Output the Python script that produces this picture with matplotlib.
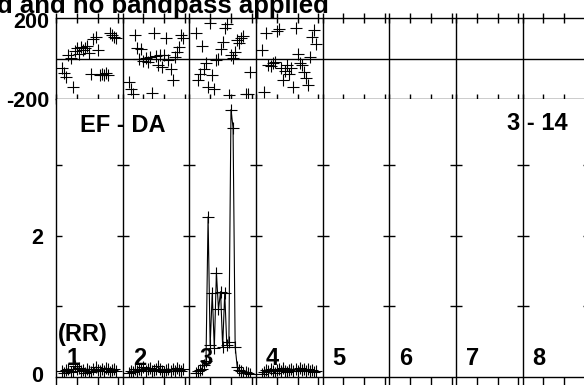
import matplotlib
matplotlib.use("Agg")
import matplotlib.pyplot as plt
import matplotlib.transforms as mtransforms
import numpy as np

plt.rcParams['font.family'] = ['Liberation Sans', 'DejaVu Sans']
plt.rcParams['font.weight'] = 'bold'

# channels plotted in every IF (edge channels flagged)
chan = np.arange(3, 30)
nchan = 32
nif = 8
if_labels = ['1', '2', '3', '4', '5', '6', '7', '8']

# phase (deg) per IF, IFs 5-8 have no data
phase_if1 = [-45, -70, -90, 20, 5, -140, 40, 55, 25, 60, 45, 55, 65, 30,
             -75, 95, 105, 45, -80, -75, -80, -70, -80, 125, 115, 105, 100]
phase_if2 = [-115, -150, -175, 115, 55, 0, 50, -10, 5, -15, 10, -170, 125, 15,
             -30, 20, -40, 20, 100, -5, -50, -105, 10, 35, 60, 115, 100]
phase_if3 = [125, -105, -75, 65, -50, -20, -140, 175, -80, -150, -5, 0, 50, 85,
             150, 170, -180, 20, 5, 35, 90, 80, 100, 110, -175, -175, -65]
phase_if4 = [45, -165, 125, -30, -35, -20, -15, 135, 145, -45, -105, -60, -30, -75,
             -45, -140, 150, 25, -20, -30, -65, -95, -130, 10, 105, 140, 75]

# amplitude (Jy) per IF
amp_if1 = [0.08, 0.06, 0.10, 0.12, 0.07, 0.09, 0.15, 0.11, 0.13, 0.08, 0.10, 0.06, 0.12, 0.09,
           0.07, 0.11, 0.14, 0.10, 0.08, 0.12, 0.09, 0.13, 0.11, 0.07, 0.10, 0.12, 0.08]
amp_if2 = [0.06, 0.09, 0.07, 0.11, 0.08, 0.12, 0.10, 0.14, 0.09, 0.11, 0.13, 0.08, 0.10, 0.12,
           0.15, 0.11, 0.09, 0.07, 0.10, 0.12, 0.08, 0.11, 0.09, 0.13, 0.10, 0.08, 0.11]
amp_if3 = [0.05, 0.08, 0.10, 0.12, 0.17, 0.22, 2.27, 0.45, 1.19, 0.41, 1.48, 0.96, 1.21, 0.43,
           1.19, 0.45, 0.50, 3.79, 3.53, 0.43, 0.14, 0.10, 0.08, 0.06, 0.07, 0.05, 0.04]
amp_if4 = [0.04, 0.07, 0.10, 0.08, 0.12, 0.09, 0.06, 0.10, 0.11, 0.08, 0.13, 0.09, 0.07, 0.10,
           0.12, 0.08, 0.11, 0.09, 0.13, 0.10, 0.12, 0.08, 0.11, 0.09, 0.10, 0.07, 0.09]

phases = [phase_if1, phase_if2, phase_if3, phase_if4]
amps = [amp_if1, amp_if2, amp_if3, amp_if4]

W, H = 584, 385
fig = plt.figure(figsize=(W / 100, H / 100), dpi=100)

def px_axes(x0, y0, x1, y1):
    return fig.add_axes([x0 / W, 1 - y1 / H, (x1 - x0) / W, (y1 - y0) / H])

def nudge(labels, dy_px):
    # shift tick labels vertically by a few pixels
    off = mtransforms.ScaledTranslation(0, dy_px / 100, fig.dpi_scale_trans)
    for lbl in labels:
        lbl.set_transform(lbl.get_transform() + off)

ax_ph = px_axes(56, 18.3, 589.3, 99)
ax_am = px_axes(56, 99, 589.3, 377)

xmax = nif * nchan
bounds = np.arange(0, nif + 1) * nchan
minor = [k * nchan + t for k in range(nif) for t in (10, 20, 30)]

for ax in (ax_ph, ax_am):
    ax.set_xlim(0, xmax)
    for b in bounds[1:]:
        ax.axvline(b, color='black', lw=1.0)
    for s in ax.spines.values():
        s.set_linewidth(1.0)
    ax.set_xticks(list(bounds) + minor)
    ax.set_xticklabels([])
    ax.spines['right'].set_visible(False)

ax_ph.set_ylim(-200, 200)
ax_ph.axhline(0, color='black', lw=1.0)
ax_ph.set_yticks([-200, 200])
ax_ph.set_yticklabels(['-200', '200'], fontsize=15.5, fontweight='bold')
ax_ph.tick_params(axis='y', length=0, pad=5)
ax_ph.tick_params(axis='x', top=True, bottom=True, direction='inout', length=7, width=1)
nudge(ax_ph.get_yticklabels()[1:], -2)

ax_am.set_ylim(0, 3.94)
ax_am.set_yticks([0, 2])
ax_am.set_yticklabels(['0', '2'], fontsize=15.5, fontweight='bold')
ax_am.tick_params(axis='y', length=0, pad=9)
ax_am.tick_params(axis='x', top=False, bottom=True, direction='out', length=6, width=1)
ax_am.spines['top'].set_visible(False)
nudge(ax_am.get_yticklabels()[:1], 3.5)

# y ticks on each IF boundary of the amplitude panel
for b in bounds:
    ax_am.plot([b] * 3, [1, 2, 3], ls='none', marker='_', ms=8.5, mew=1.0, color='black')

for k in range(len(phases)):
    x = k * nchan + chan
    ax_ph.plot(x, phases[k], ls='none', marker='+', ms=9, mew=0.8, color='black')
    ax_am.plot(x, amps[k], ls='-', lw=0.8, marker='+', ms=9, mew=0.8, color='black')

def ftext(x, y, s, size=17):
    fig.text(x / W, 1 - y / H, s, fontsize=size, fontweight='bold', va='baseline', ha='left')

ftext(-3, 13, 'd and no bandpass applied', size=18.5)
ftext(80, 132, 'EF - DA')
ftext(507, 130, '3 - 14')
ftext(58, 341, '(RR)')
for k, lab in enumerate(if_labels):
    ftext(56 + k * 66.67 + 10, 365, lab)

fig.savefig('out.png', dpi=100)
